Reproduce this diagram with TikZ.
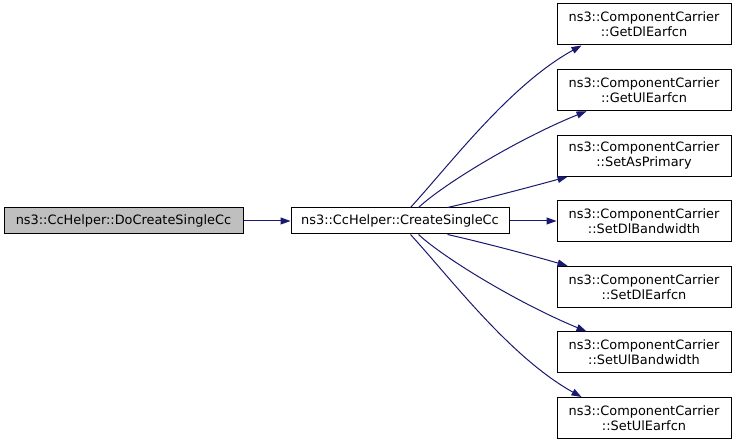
\documentclass[tikz,border=0pt]{standalone}
\usepackage{fontspec}
\setmainfont{DejaVu Sans}
\usetikzlibrary{arrows.meta,calc}
\definecolor{edgeblue}{RGB}{25,25,112}
\definecolor{hl}{RGB}{191,191,191}
\begin{document}
\begin{tikzpicture}[x=1pt,y=-1pt,
  box/.style={draw=black,line width=1pt,rectangle,inner sep=0pt,font=\fontsize{12.9}{15}\selectfont,align=center},
  leafbox/.style={box,minimum width=174pt,minimum height=41pt},
  edge/.style={draw=edgeblue,line width=1pt,-{Triangle[length=10pt,width=7pt]}}
]
\useasboundingbox (0,0) rectangle (736,443);
\node[box,fill=hl,minimum width=239pt,minimum height=26pt] (a) at (123.5,221) {ns3::CcHelper::DoCreateSingleCc};
\node[box,minimum width=218pt,minimum height=26pt] (b) at (400,221) {ns3::CcHelper::CreateSingleCc};
\node[leafbox] (r1) at (644,24.5) {ns3::ComponentCarrier\\::GetDlEarfcn};
\node[leafbox] (r2) at (644,90.2) {ns3::ComponentCarrier\\::GetUlEarfcn};
\node[leafbox] (r3) at (644,155.8) {ns3::ComponentCarrier\\::SetAsPrimary};
\node[leafbox] (r4) at (644,221.3) {ns3::ComponentCarrier\\::SetDlBandwidth};
\node[leafbox] (r5) at (644,286.8) {ns3::ComponentCarrier\\::SetDlEarfcn};
\node[leafbox] (r6) at (644,352.4) {ns3::ComponentCarrier\\::SetUlBandwidth};
\node[leafbox] (r7) at (644,418) {ns3::ComponentCarrier\\::SetUlEarfcn};
\draw[edge] (a.east) -- (b.west);
\draw[edge] ($(b.north west)+(120,0)$) .. controls (452,162) and (510,85) .. ($(r1.south west)+(25,0)$);
\draw[edge] ($(b.north west)+(128,0)$) .. controls (445,183) and (520,138) .. ($(r2.south west)+(30,0)$);
\draw[edge] ($(b.north west)+(157,0)$) .. controls (485,199) and (530,187) .. ($(r3.south west)+(11,0)$);
\draw[edge] (b.east) -- (b.east -| r4.west);
\draw[edge] ($(b.south west)+(157,0)$) .. controls (485,243) and (530,255) .. ($(r5.north west)+(11,0)$);
\draw[edge] ($(b.south west)+(128,0)$) .. controls (445,259) and (520,304) .. ($(r6.north west)+(30,0)$);
\draw[edge] ($(b.south west)+(120,0)$) .. controls (452,280) and (510,357) .. ($(r7.north west)+(25,0)$);
\end{tikzpicture}
\end{document}
